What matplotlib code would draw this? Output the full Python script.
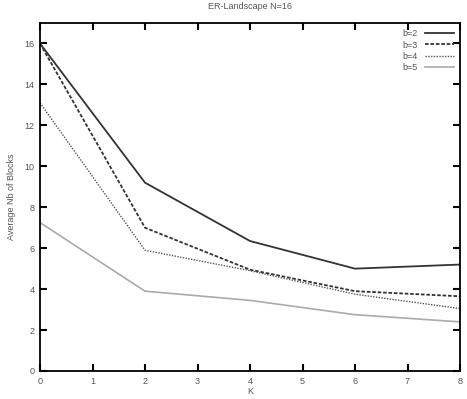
import numpy as np
import matplotlib.pyplot as plt

# データ
K = [0, 2, 4, 6, 8]
b2 = [16.0, 9.2, 6.35, 5.0, 5.2]
b3 = [16.0, 7.0, 4.95, 3.9, 3.65]
b4 = [13.1, 5.9, 4.9, 3.75, 3.05]
b5 = [7.25, 3.9, 3.45, 2.75, 2.4]

tc = "#555555"
plt.rcParams['font.family'] = ['Liberation Sans', 'DejaVu Sans']

fig = plt.figure(figsize=(4.67, 3.99), dpi=100, facecolor="w")
ax = fig.add_axes([40/467, 28/399, 420/467, 348/399])

ax.plot(K, b2, color="#333333", lw=1.3, label="b=2")
ax.plot(K, b3, color="#333333", lw=1.3, ls=(0, (2, 1)), label="b=3")
ax.plot(K, b4, color="#555555", lw=1.0, ls=(0, (1, 1)), label="b=4")
ax.plot(K, b5, color="#aaaaaa", lw=1.2, label="b=5")

ax.set_xlim(0, 8)
ax.set_ylim(0, 17)
ax.set_xticks(range(0, 9))
ax.set_yticks(range(0, 17, 2))
ax.tick_params(direction="in", top=True, right=True, length=5, width=1.5,
               labelsize=6.5, labelcolor=tc, pad=4)
for s in ax.spines.values():
    s.set_linewidth(1.3)

ax.set_title("ER-Landscape N=16", fontsize=6.5, color=tc, pad=10)
ax.set_ylabel("Average Nb of Blocks", fontsize=6.5, color=tc, labelpad=6)
ax.set_xlabel("K", fontsize=6.5, color=tc, labelpad=1)

leg = ax.legend(loc="upper right", frameon=False, markerfirst=False,
                fontsize=6.5, handlelength=3.2, labelspacing=0.25,
                borderaxespad=0.3, handletextpad=0.8)
for t in leg.get_texts():
    t.set_color(tc)

fig.savefig("out.png", dpi=100)
